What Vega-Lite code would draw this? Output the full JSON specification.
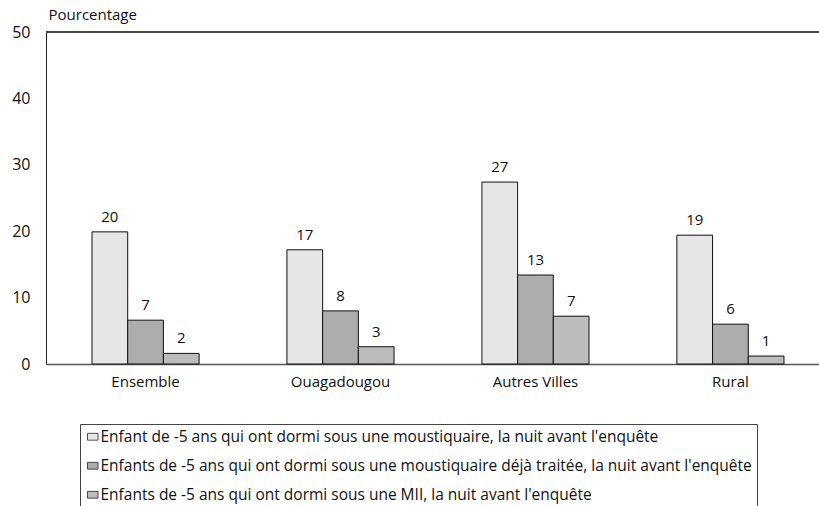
{
  "$schema": "https://vega.github.io/schema/vega-lite/v6.json",
  "width": 773,
  "height": 332,
  "autosize": {"type": "none"},
  "padding": {"left": 46, "top": 32, "right": 0, "bottom": 142},
  "config": {
    "font": "Open Sans",
    "view": {"stroke": null},
    "axis": {"labelFont": "Open Sans", "labelColor": "#111", "grid": false}
  },
  "data": {
    "values": [
      {"cat": "Ensemble", "serie": "Enfant de -5 ans qui ont dormi sous une moustiquaire, la nuit avant l'enquête", "value": 19.9},
      {"cat": "Ensemble", "serie": "Enfants de -5 ans qui ont dormi sous une moustiquaire déjà traitée, la nuit avant l'enquête", "value": 6.6},
      {"cat": "Ensemble", "serie": "Enfants de -5 ans qui ont dormi sous une MII, la nuit avant l'enquête", "value": 1.6},
      {"cat": "Ouagadougou", "serie": "Enfant de -5 ans qui ont dormi sous une moustiquaire, la nuit avant l'enquête", "value": 17.2},
      {"cat": "Ouagadougou", "serie": "Enfants de -5 ans qui ont dormi sous une moustiquaire déjà traitée, la nuit avant l'enquête", "value": 8.0},
      {"cat": "Ouagadougou", "serie": "Enfants de -5 ans qui ont dormi sous une MII, la nuit avant l'enquête", "value": 2.6},
      {"cat": "Autres Villes", "serie": "Enfant de -5 ans qui ont dormi sous une moustiquaire, la nuit avant l'enquête", "value": 27.4},
      {"cat": "Autres Villes", "serie": "Enfants de -5 ans qui ont dormi sous une moustiquaire déjà traitée, la nuit avant l'enquête", "value": 13.4},
      {"cat": "Autres Villes", "serie": "Enfants de -5 ans qui ont dormi sous une MII, la nuit avant l'enquête", "value": 7.2},
      {"cat": "Rural", "serie": "Enfant de -5 ans qui ont dormi sous une moustiquaire, la nuit avant l'enquête", "value": 19.4},
      {"cat": "Rural", "serie": "Enfants de -5 ans qui ont dormi sous une moustiquaire déjà traitée, la nuit avant l'enquête", "value": 6.0},
      {"cat": "Rural", "serie": "Enfants de -5 ans qui ont dormi sous une MII, la nuit avant l'enquête", "value": 1.2}
    ]
  },
  "encoding": {
    "x": {
      "field": "cat", "type": "nominal", "sort": ["Ensemble", "Ouagadougou", "Autres Villes", "Rural"],
      "scale": {"paddingInner": 0.4, "paddingOuter": 0.1825, "align": 0.577},
      "axis": {"title": null, "labelAngle": 0, "ticks": false, "labelPadding": 10, "labelFontSize": 15, "domainColor": "#555", "domainWidth": 1.5}
    },
    "xOffset": {
      "field": "serie", "type": "nominal",
      "scale": {"domain": [
        "Enfant de -5 ans qui ont dormi sous une moustiquaire, la nuit avant l'enquête",
        "Enfants de -5 ans qui ont dormi sous une moustiquaire déjà traitée, la nuit avant l'enquête",
        "Enfants de -5 ans qui ont dormi sous une MII, la nuit avant l'enquête"
      ], "paddingInner": 0, "paddingOuter": 0.138}
    },
    "y": {
      "field": "value", "type": "quantitative",
      "scale": {"domain": [0, 50], "nice": false},
      "axis": {
        "values": [0, 10, 20, 30, 40, 50], "ticks": false, "labelPadding": 16, "labelFontSize": 16,
        "domainColor": "#222", "domainWidth": 1,
        "title": "Pourcentage", "titleAngle": 0, "titleX": 2, "titleY": -13,
        "titleAlign": "left", "titleBaseline": "alphabetic", "titleFont": "Open Sans",
        "titleFontSize": 15, "titleFontWeight": "normal", "titleColor": "#111"
      }
    }
  },
  "layer": [
    {
      "mark": {"type": "bar", "stroke": "#111", "strokeWidth": 1},
      "encoding": {
        "fill": {
          "field": "serie", "type": "nominal",
          "scale": {
            "domain": [
              "Enfant de -5 ans qui ont dormi sous une moustiquaire, la nuit avant l'enquête",
              "Enfants de -5 ans qui ont dormi sous une moustiquaire déjà traitée, la nuit avant l'enquête",
              "Enfants de -5 ans qui ont dormi sous une MII, la nuit avant l'enquête"
            ],
            "range": ["#e6e6e6", "#adadad", "#bcbcbc"]
          },
          "legend": {
            "title": null, "orient": "none", "legendX": 34, "legendY": 392,
            "strokeColor": "#444", "padding": 5, "rowPadding": 12,
            "labelFont": "Open Sans", "labelFontSize": 15.5, "labelColor": "#111", "labelLimit": 800,
            "labelOffset": 0,
            "symbolType": "M-1,-0.65H1V0.65H-1Z", "symbolSize": 110,
            "symbolStrokeColor": "#222", "symbolStrokeWidth": 0.8, "symbolOpacity": 1
          }
        }
      }
    },
    {
      "mark": {"type": "text", "baseline": "alphabetic", "dy": -10, "fontSize": 15, "color": "#111"},
      "encoding": {
        "text": {"field": "value", "type": "quantitative", "format": ".0f"}
      }
    },
    {
      "mark": {"type": "rule", "color": "#444", "strokeWidth": 1.5},
      "encoding": {"y": {"datum": 50}, "xOffset": null, "x": null}
    }
  ]
}
